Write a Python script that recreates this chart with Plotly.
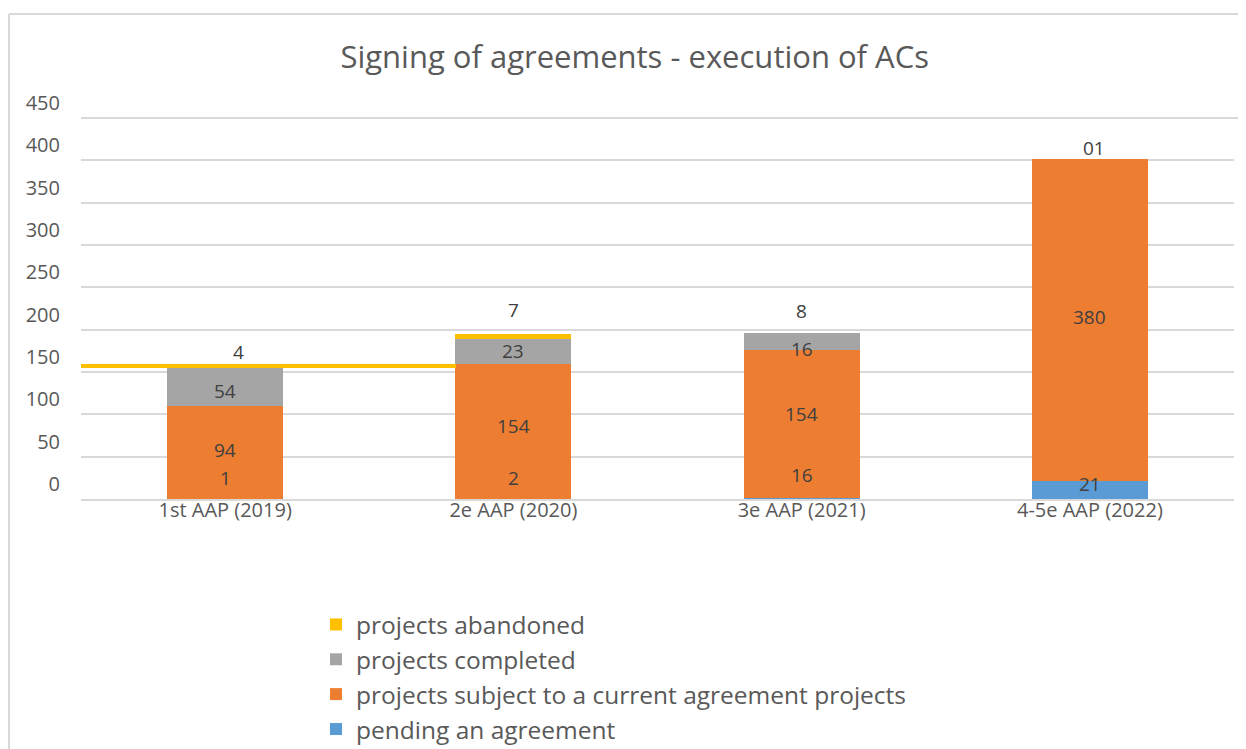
import plotly.graph_objects as go

# ---- data ----
categories = ["1st AAP (2019)", "2e AAP (2020)", "3e AAP (2021)", "4-5e AAP (2022)"]
pending = [0, 0, 1.5, 21]
current = [110, 160, 175, 380]
completed = [45, 29, 20, 0]
abandoned = [5, 6, 0, 0]

pending_lbl = ["1", "2", "16", "21"]
current_lbl = ["94", "154", "154", "380"]
completed_lbl = ["54", "23", "16", ""]
abandoned_lbl = ["4", "7", "8", "01"]

y_ticks = [0, 50, 100, 150, 200, 250, 300, 350, 400, 450]

# ---- styling ----
C_BLUE, C_ORANGE, C_GRAY, C_YELLOW = "#5B9BD5", "#ED7D31", "#A5A5A5", "#FFC000"
TXT = "#595959"
LBL = "#404040"
GRID = "#D9D9D9"
FONT = "Open Sans"
BW = 0.403
W, H = 1238, 741                      # page has an 8px body margin
PL, PR, PT, PB = 73, 1226, 108, 491   # plot area in figure pixels
PW, PH = PR - PL, PB - PT
Y_MAX = PH / (381 / 450)              # keeps 0..450 spanning 381 px

xs = list(range(len(categories)))

fig = go.Figure()
series = [
    ("pending an agreement", pending, C_BLUE),
    ("projects subject to a current agreement projects", current, C_ORANGE),
    ("projects completed", completed, C_GRAY),
]
for name, vals, col in series:
    fig.add_trace(go.Bar(x=xs, y=vals, name=name, marker=dict(color=col, line=dict(width=0)),
                         width=BW, hoverinfo="skip"))

# abandoned: first category drawn as a wide thin band (as in the source)
ab_width = [1.3, BW, BW, BW]
ab_offset = [-0.5, -BW / 2, -BW / 2, -BW / 2]
fig.add_trace(go.Bar(x=xs, y=abandoned, name="projects abandoned",
                     marker=dict(color=C_YELLOW, line=dict(width=0)),
                     width=ab_width, offset=ab_offset, hoverinfo="skip"))

# data labels at segment centres (with pixel nudges to mimic the source)
shift_y = {
    "p": [21, 21, 23, 6],
    "c": [2, 5, 10, 3],
    "g": [-4, 0, -8, 0],
    "a": [14, 26, 22, 11],
}
shift_x = {"p": [0, 0, 0, 0], "c": [0, 0, 0, 0], "g": [0, 0, 0, 0], "a": [13, 0, 0, 4]}
stack = [("p", pending, pending_lbl), ("c", current, current_lbl),
         ("g", completed, completed_lbl), ("a", abandoned, abandoned_lbl)]
base = [0.0] * len(categories)
for key, vals, lbls in stack:
    for i in xs:
        centre = base[i] + vals[i] / 2
        if lbls[i]:
            fig.add_annotation(x=i, y=centre, text=lbls[i], showarrow=False,
                               xshift=shift_x[key][i], yshift=shift_y[key][i],
                               font=dict(family=FONT, size=19, color=LBL))
        base[i] += vals[i]

# outer frame (left and top edges)
fx0 = (1 - PL) / PW
fx1 = (W - PL) / PW
fy_top = (PB - 6) / PH
fy_bot = (PB - H) / PH
fig.add_shape(type="line", xref="paper", yref="paper", x0=fx0, x1=fx0, y0=fy_bot, y1=fy_top,
              line=dict(color=GRID, width=2))
fig.add_shape(type="line", xref="paper", yref="paper", x0=fx0, x1=fx1, y0=fy_top, y1=fy_top,
              line=dict(color=GRID, width=2))
# top gridline runs on to the right edge in the source
fig.add_shape(type="line", xref="paper", yref="y", x0=1, x1=fx1, y0=y_ticks[-1], y1=y_ticks[-1],
              line=dict(color=GRID, width=2), layer="below")

fig.update_layout(
    width=W, height=H,
    margin=dict(l=PL, r=W - PR, t=PT, b=H - PB, autoexpand=False),
    paper_bgcolor="white", plot_bgcolor="white",
    barmode="stack", bargap=0,
    font=dict(family=FONT, color=TXT),
    title=dict(text="Signing of agreements - execution of ACs", x=626.7 / W, xanchor="center",
               y=1 - 49 / H, yanchor="middle", font=dict(family=FONT, size=31, color=TXT)),
    xaxis=dict(tickmode="array", tickvals=xs, ticktext=categories, range=[-0.5, 3.5],
               showgrid=False, showline=True, linecolor=GRID, linewidth=2, tickangle=0,
               tickfont=dict(family=FONT, size=20, color=TXT), ticks="", zeroline=False,
               ticklabelstandoff=-8),
    yaxis=dict(range=[0, Y_MAX], tickmode="array", tickvals=y_ticks, showgrid=True,
               gridcolor=GRID, gridwidth=2, zeroline=False, showline=False, ticks="",
               tickfont=dict(family=FONT, size=20, color=TXT),
               ticklabelstandoff=20, ticklabelshift=-15),
    legend=dict(traceorder="reversed",
                x=(308 - PL) / PW, y=(PB - 594) / PH, xanchor="left", yanchor="top",
                font=dict(family=FONT, size=24.5, color=TXT), bgcolor="rgba(0,0,0,0)",
                tracegroupgap=0),
    showlegend=True,
)

fig.write_html("out.html")
